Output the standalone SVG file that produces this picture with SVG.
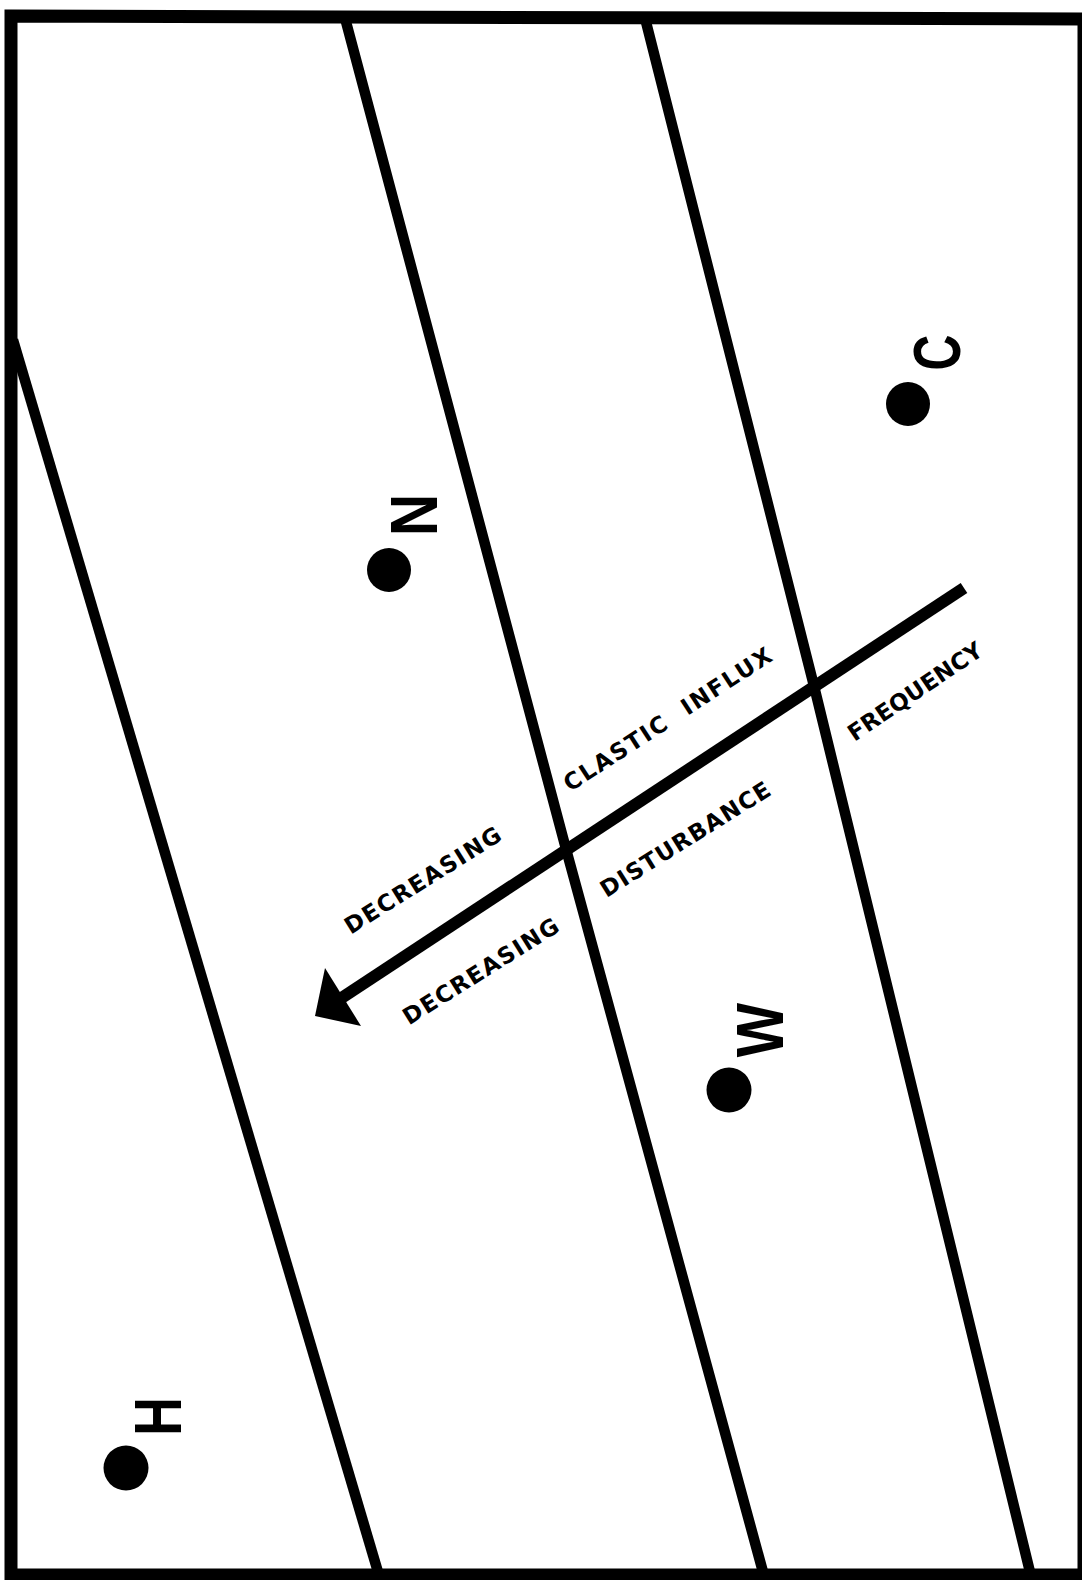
<svg xmlns="http://www.w3.org/2000/svg" width="1082" height="1580" viewBox="0 0 1082 1580">
<style>
.frame{fill:none;stroke:#000;stroke-width:13;stroke-linejoin:miter}
.ln{fill:none;stroke:#000;stroke-width:10.5;stroke-linejoin:round;stroke-linecap:butt}
.dot{fill:#000}
.big{font-family:"Liberation Sans",Arial,sans-serif;font-weight:bold;font-size:67px;fill:#000;text-anchor:middle}
.lab{font-family:"DejaVu Sans","Liberation Sans",sans-serif;font-weight:bold;font-size:23px;fill:#000;text-anchor:middle}
</style>
<rect width="1082" height="1580" fill="#fff"/>
<g id="frame">
<polygon class="frame" points="11,16 1084,19 1084,1575 11,1575"/>
</g>
<g id="connectors">
<polyline class="ln" points="13,340 378,1572"/>
<polyline class="ln" points="345,18 566,849 763,1572"/>
<polyline class="ln" points="645,18 815,690 1030,1572"/>
<line x1="964" y1="588" x2="340" y2="999" stroke="#000" stroke-width="12"/>
<polygon points="315,1016 325,968 361,1026" fill="#000"/>
</g>
<g id="node-C">
<circle class="dot" cx="908" cy="404" r="22"/>
<text class="big" transform="translate(960,352.5) rotate(-90) scale(0.74,1)">C</text>
</g>
<g id="node-N">
<circle class="dot" cx="389" cy="570" r="22"/>
<text class="big" transform="translate(437,515) rotate(-90) scale(0.88,1)">N</text>
</g>
<g id="node-W">
<circle class="dot" cx="729" cy="1090" r="22.5"/>
<text class="big" transform="translate(783,1030) rotate(-90) scale(0.86,1)">W</text>
</g>
<g id="node-H">
<circle class="dot" cx="126" cy="1468" r="22.5"/>
<text class="big" transform="translate(181,1416.5) rotate(-90) scale(0.8,1)">H</text>
</g>
<g id="labels">
<text class="lab" transform="translate(427,887) rotate(-32)" textLength="180" lengthAdjust="spacing">DECREASING</text>
<text class="lab" transform="translate(485,978) rotate(-32)" textLength="179" lengthAdjust="spacing">DECREASING</text>
<text class="lab" transform="translate(672,726) rotate(-33)" textLength="243" lengthAdjust="spacing" xml:space="preserve" style="white-space:pre">CLASTIC  INFLUX</text>
<text class="lab" transform="translate(689.5,846) rotate(-32)" textLength="196" lengthAdjust="spacing">DISTURBANCE</text>
<text class="lab" transform="translate(919.5,698) rotate(-34)" textLength="157" lengthAdjust="spacing">FREQUENCY</text>
</g>
</svg>
